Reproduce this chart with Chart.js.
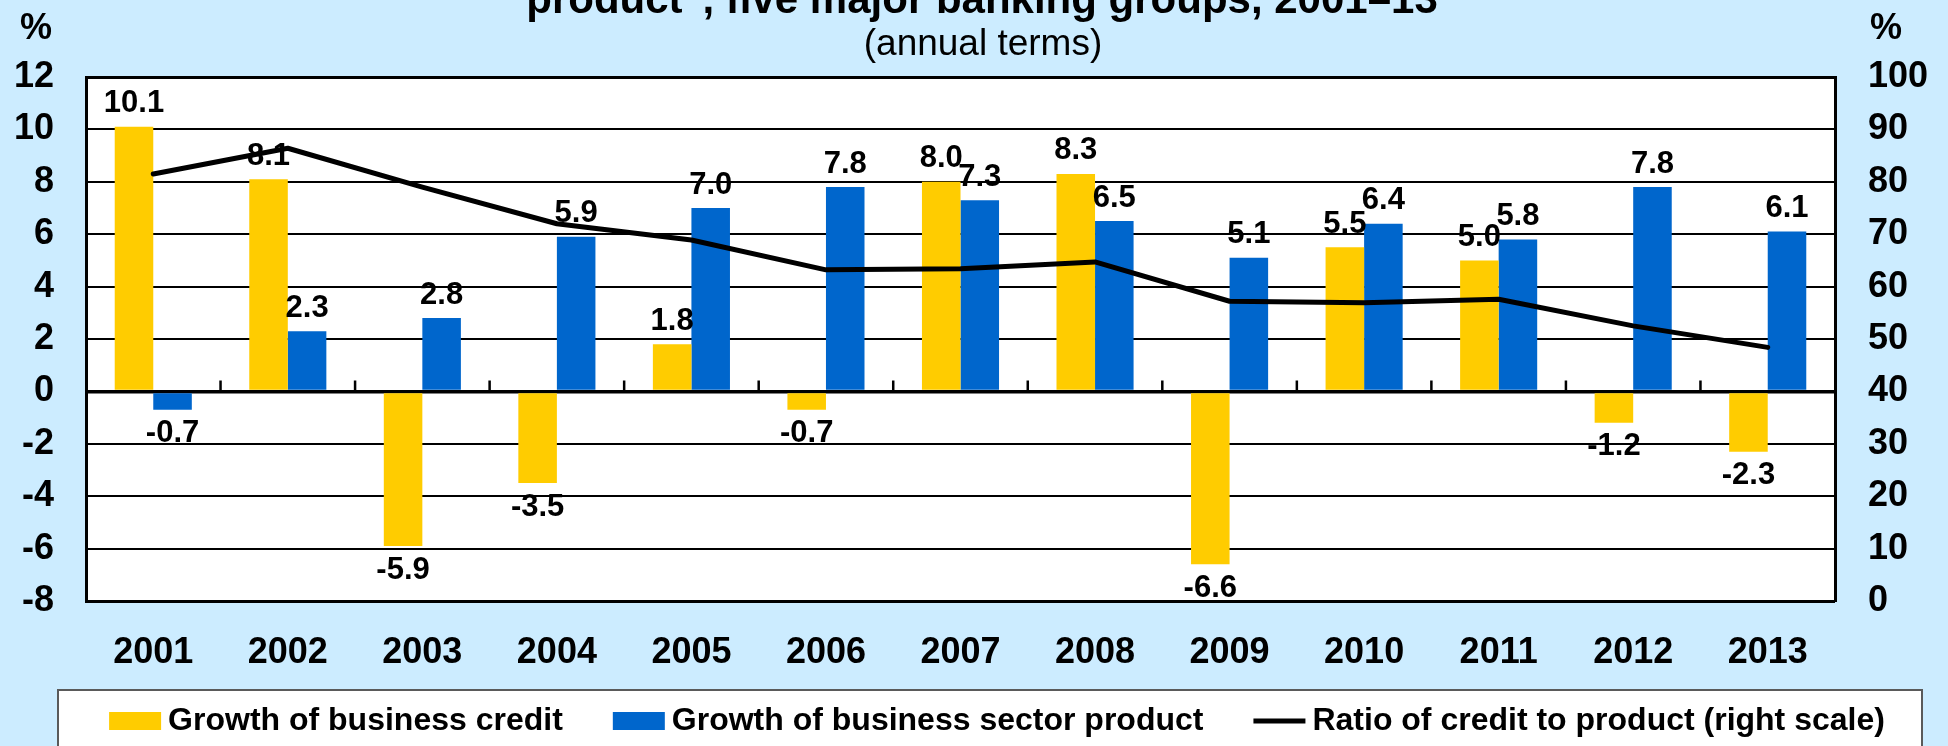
<!DOCTYPE html>
<html>
<head>
<meta charset="utf-8">
<script src="https://cdn.jsdelivr.net/npm/chart.js@4.4.1/dist/chart.umd.min.js"></script>
<style>
  html, body { margin: 0; padding: 0; background: #ccecff; }
  canvas { display: block; }
</style>
</head>
<body>
<canvas id="chart" width="1948" height="746"></canvas>
<script>
/* ─── Data ──────────────────────────────────────────────────────────────── */
const years = ['2001', '2002', '2003', '2004', '2005', '2006', '2007',
               '2008', '2009', '2010', '2011', '2012', '2013'];
const creditGrowth  = [10.1, 8.1, -5.9, -3.5, 1.8, -0.7, 8.0, 8.3, -6.6, 5.5, 5.0, -1.2, -2.3];
const productGrowth = [-0.7, 2.3, 2.8, 5.9, 7.0, 7.8, 7.3, 6.5, 5.1, 6.4, 5.8, 7.8, 6.1];
const creditToProduct = [81.5, 86.4, 79.0, 72.0, 68.9, 63.2, 63.4, 64.7, 57.2, 56.9, 57.6, 52.5, 48.4];

const titleText    = 'product", five major banking groups, 2001\u201313';
const subtitleText = '(annual terms)';

/* ─── Look ──────────────────────────────────────────────────────────────── */
const FONT   = "'Liberation Sans', Arial, sans-serif";
const BG     = '#ccecff';
const YELLOW = '#ffcc00';
const BLUE   = '#0066cc';

/* ─── Plugins ───────────────────────────────────────────────────────────── */
const frame = {
  id: 'frame',
  beforeDraw(chart) {
    const { ctx, chartArea: a } = chart;
    ctx.save();
    ctx.fillStyle = BG;
    ctx.fillRect(0, 0, chart.width, chart.height);
    ctx.fillStyle = '#fff';
    ctx.fillRect(a.left, a.top, a.right - a.left, a.bottom - a.top);
    // legend panel
    ctx.fillRect(58, 690, 1864, 70);
    ctx.strokeStyle = '#5a5a5a';
    ctx.lineWidth = 2;
    ctx.beginPath();
    ctx.moveTo(58, 760); ctx.lineTo(58, 690); ctx.lineTo(1922, 690); ctx.lineTo(1922, 760);
    ctx.stroke();
    ctx.restore();
  },
  afterDraw(chart) {
    const { ctx } = chart;
    ctx.save();
    ctx.fillStyle = '#000';
    ctx.textBaseline = 'alphabetic';
    ctx.textAlign = 'center';
    ctx.font = `bold 42px ${FONT}`;
    ctx.fillText(titleText, 982, 13);
    ctx.font = `37px ${FONT}`;
    ctx.fillText(subtitleText, 983, 55);
    ctx.textAlign = 'left';
    ctx.font = `bold 36px ${FONT}`;
    ctx.fillText('%', 20, 39);
    ctx.fillText('%', 1870, 39);
    ctx.restore();
  }
};

// small tick marks on the zero line between the year groups
const zeroTicks = {
  id: 'zeroTicks',
  beforeDatasetsDraw(chart) {
    const { ctx, scales: { x, y } } = chart;
    const y0 = y.getPixelForValue(0);
    ctx.save();
    ctx.strokeStyle = '#000';
    ctx.lineWidth = 2.5;
    ctx.beginPath();
    for (let i = 1; i < years.length; i++) {
      const xb = (x.getPixelForValue(i - 1) + x.getPixelForValue(i)) / 2;
      ctx.moveTo(xb, y0);
      ctx.lineTo(xb, y0 - 11);
    }
    ctx.stroke();
    ctx.restore();
  }
};

const barLabels = {
  id: 'barLabels',
  afterDatasetsDraw(chart) {
    const { ctx } = chart;
    ctx.save();
    ctx.font = `bold 31px ${FONT}`;
    ctx.fillStyle = '#000';
    ctx.textAlign = 'center';
    ctx.textBaseline = 'middle';
    chart.data.datasets.forEach((ds, i) => {
      if (ds.type !== 'bar') { return; }
      chart.getDatasetMeta(i).data.forEach((bar, j) => {
        const v = ds.data[j];
        const ty = v >= 0 ? bar.y - 23 : bar.y + 24;
        ctx.fillText(v.toFixed(1), bar.x, ty);
      });
    });
    ctx.restore();
  }
};

const legendRow = {
  id: 'legendRow',
  afterDraw(chart) {
    const { ctx } = chart;
    const sets = chart.data.datasets;
    const markW = 52, markGap = 7, itemGap = 50, cy = 721;
    ctx.save();
    ctx.font = `bold 32px ${FONT}`;
    const widths = sets.map(d => markW + markGap + ctx.measureText(d.label).width);
    const total = widths.reduce((s, w) => s + w, 0) + itemGap * (sets.length - 1);
    let x = 997 - total / 2;
    sets.forEach((d, i) => {
      if (d.type === 'line') {
        ctx.strokeStyle = d.borderColor;
        ctx.lineWidth = d.borderWidth;
        ctx.beginPath();
        ctx.moveTo(x, cy); ctx.lineTo(x + markW, cy);
        ctx.stroke();
      } else {
        ctx.fillStyle = d.backgroundColor;
        ctx.fillRect(x, cy - 9, markW, 18);
      }
      ctx.fillStyle = '#000';
      ctx.textAlign = 'left';
      ctx.textBaseline = 'middle';
      ctx.fillText(d.label, x + markW + markGap, cy);
      x += widths[i] + itemGap;
    });
    ctx.restore();
  }
};

/* ─── Chart ─────────────────────────────────────────────────────────────── */
const tickFont = { family: FONT, size: 36, weight: 'bold' };

new Chart(document.getElementById('chart'), {
  type: 'bar',
  data: {
    labels: years,
    datasets: [
      {
        type: 'bar', label: 'Growth of business credit', data: creditGrowth,
        backgroundColor: YELLOW, borderWidth: 0, yAxisID: 'y', order: 2,
        categoryPercentage: 0.573, barPercentage: 1,
      },
      {
        type: 'bar', label: 'Growth of business sector product', data: productGrowth,
        backgroundColor: BLUE, borderWidth: 0, yAxisID: 'y', order: 2,
        categoryPercentage: 0.573, barPercentage: 1,
      },
      {
        type: 'line', label: 'Ratio of credit to product (right scale)', data: creditToProduct,
        borderColor: '#000', borderWidth: 5, pointRadius: 0, tension: 0, fill: false,
        borderJoinStyle: 'round', borderCapStyle: 'round', yAxisID: 'y1', order: 1,
      },
    ],
  },
  options: {
    responsive: false, animation: false, devicePixelRatio: 1,
    layout: { padding: { top: 77, bottom: 56, left: 0, right: 0 } },
    plugins: { legend: { display: false }, tooltip: { enabled: false } },
    scales: {
      x: {
        grid: { display: false }, border: { display: false },
        ticks: { font: tickFont, color: '#000', padding: 22, maxRotation: 0, autoSkip: false },
        afterFit: s => { s.height = 89; },
      },
      y: {
        position: 'left', min: -8, max: 12,
        ticks: { stepSize: 2, font: tickFont, color: '#000', padding: 32 },
        grid: {
          color: '#000', drawTicks: false,
          lineWidth: c => (c.tick.value === 0 ? 3.5 : (c.tick.value === 12 || c.tick.value === -8 ? 3 : 2)),
        },
        border: { display: true, color: '#000', width: 3 },
        afterFit: s => { s.width = 86; },
      },
      y1: {
        position: 'right', min: 0, max: 100,
        ticks: { stepSize: 10, font: tickFont, color: '#000', padding: 33 },
        grid: { display: false, drawTicks: false },
        border: { display: true, color: '#000', width: 3 },
        afterFit: s => { s.width = 113; },
      },
    },
  },
  plugins: [frame, zeroTicks, barLabels, legendRow],
});
</script>
</body>
</html>
